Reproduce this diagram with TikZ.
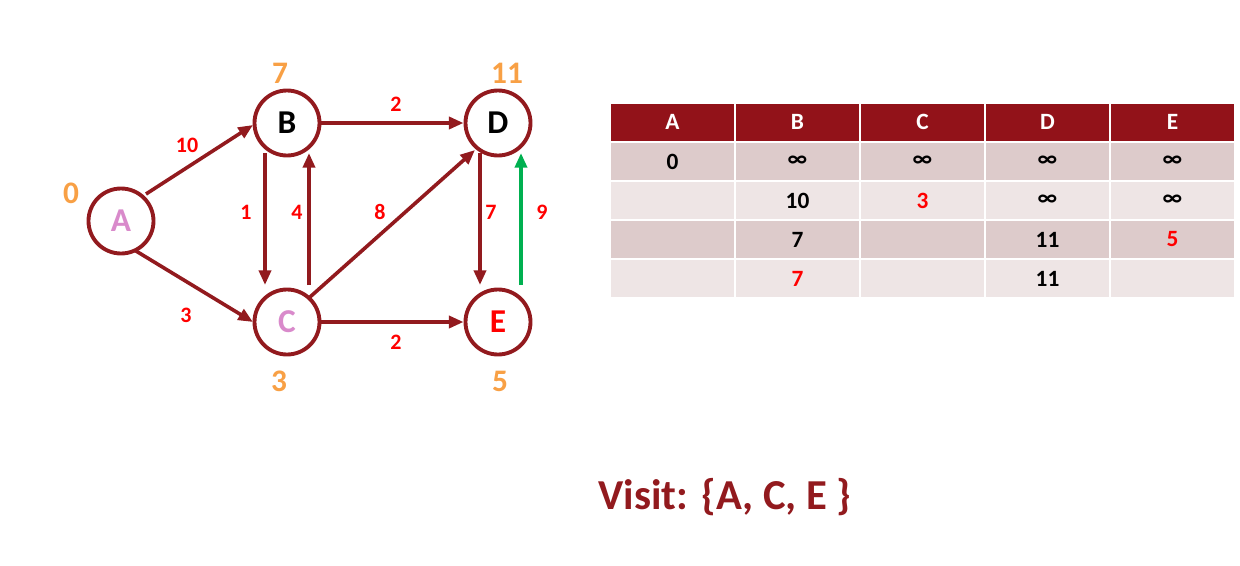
\documentclass[tikz,border=0pt]{standalone}
\usepackage{fontspec}
\setmainfont{Carlito}
\usetikzlibrary{arrows.meta}
\definecolor{edgered}{HTML}{921A1E}
\definecolor{hdrred}{HTML}{921219}
\definecolor{orng}{HTML}{F8A045}
\definecolor{pnk}{HTML}{D98ACB}
\definecolor{lblred}{HTML}{FF0000}
\definecolor{grn}{HTML}{00B050}
\definecolor{rowA}{HTML}{DDCBCB}
\definecolor{rowB}{HTML}{EEE5E5}
\begin{document}
\begin{tikzpicture}[x=0.75pt,y=-0.75pt,
  vtx/.style={circle,draw=edgered,line width=2.9pt,fill=white,minimum size=48.75pt,inner sep=0pt,font=\fontsize{25}{25}\selectfont\bfseries},
  edge/.style={draw=edgered,line width=2.7pt,-{Triangle[length=11pt,width=9pt]}},
  wlbl/.style={text=lblred,font=\fontsize{16.5}{16.5}\selectfont\bfseries},
  dist/.style={text=orng,font=\fontsize{23.5}{23.5}\selectfont\bfseries},
  cell/.style={draw=white,line width=1.5pt,minimum width=93.75pt,minimum height=29.25pt,inner sep=0pt,font=\fontsize{17.5}{17.5}\selectfont\bfseries},
  hcell/.style={cell,fill=hdrred,text=white},
  ca/.style={cell,fill=rowA},
  cb/.style={cell,fill=rowB}]
\useasboundingbox (0,0) rectangle (1240,565);
% vertices
\node[vtx,text=pnk] (A) at (121,221) {A};
\node[vtx] (B) at (287,123) {B};
\node[vtx,text=pnk] (C) at (287,322) {C};
\node[vtx] (D) at (498,123) {D};
\node[vtx,text=lblred] (E) at (498,322) {E};
% edges
\draw[edge] ([shift={(25,-27)}]A.center) -- ([shift={(-34,2)}]B.center);
\draw[edge] ([shift={(15,30)}]A.center) -- ([shift={(-34,0)}]C.center);
\draw[edge] (B.east) -- (D.west);
\draw[edge] (C.east) -- (E.west);
\draw[edge] ([shift={(-22,30)}]B.center) -- ([shift={(-22,-37)}]C.center);
\draw[edge] ([shift={(22,-37)}]C.center) -- ([shift={(22,30)}]B.center);
\draw[edge] ([shift={(23,-25)}]C.center) -- ([shift={(-23,27)}]D.center);
\draw[edge] ([shift={(-18,30)}]D.center) -- ([shift={(-18,-37)}]E.center);
\draw[edge,draw=grn] ([shift={(23,-37)}]E.center) -- ([shift={(23,30)}]D.center);
% weights
\node[wlbl] (w1) at (187,145) {10};
\node[wlbl] (w2) at (186,315) {3};
\node[wlbl] (w3) at (246,212) {1};
\node[wlbl] (w4) at (297,212) {4};
\node[wlbl] (w5) at (380,212) {8};
\node[wlbl] (w6) at (491,212) {7};
\node[wlbl] (w7) at (542,212) {9};
\node[wlbl] (w8) at (396,104) {2};
\node[wlbl] (w9) at (396,342) {2};
% distances
\node[dist] (dA) at (71,193) {0};
\node[dist] (dB) at (280,73) {7};
\node[dist] (dC) at (279,381) {3};
\node[dist] (dD) at (507,73) {11};
\node[dist] (dE) at (500,381) {5};
% table
\foreach \x/\t [count=\i] in {672.5/A,797.5/B,922.5/C,1047.5/D,1172.5/E}
  \node[hcell] (h\i) at (\x,122) {\t};
\node[ca] (r1a) at (672.5,161.5) {0};
\node[ca] (r1b) at (797.5,161.5) {∞};
\node[ca] (r1c) at (922.5,161.5) {∞};
\node[ca] (r1d) at (1047.5,161.5) {∞};
\node[ca] (r1e) at (1172.5,161.5) {∞};
\node[cb] (r2a) at (672.5,200.5) {};
\node[cb] (r2b) at (797.5,200.5) {10};
\node[cb,text=lblred] (r2c) at (922.5,200.5) {3};
\node[cb] (r2d) at (1047.5,200.5) {∞};
\node[cb] (r2e) at (1172.5,200.5) {∞};
\node[ca] (r3a) at (672.5,239.5) {};
\node[ca] (r3b) at (797.5,239.5) {7};
\node[ca] (r3c) at (922.5,239.5) {};
\node[ca] (r3d) at (1047.5,239.5) {11};
\node[ca,text=lblred] (r3e) at (1172.5,239.5) {5};
\node[cb] (r4a) at (672.5,278.5) {};
\node[cb,text=lblred] (r4b) at (797.5,278.5) {7};
\node[cb] (r4c) at (922.5,278.5) {};
\node[cb] (r4d) at (1047.5,278.5) {11};
\node[cb] (r4e) at (1172.5,278.5) {};
% visit
\node[text=edgered,font=\fontsize{32}{32}\selectfont\bfseries] (visit) at (725,497) {Visit: \{A, C, E \}};
\end{tikzpicture}
\end{document}
